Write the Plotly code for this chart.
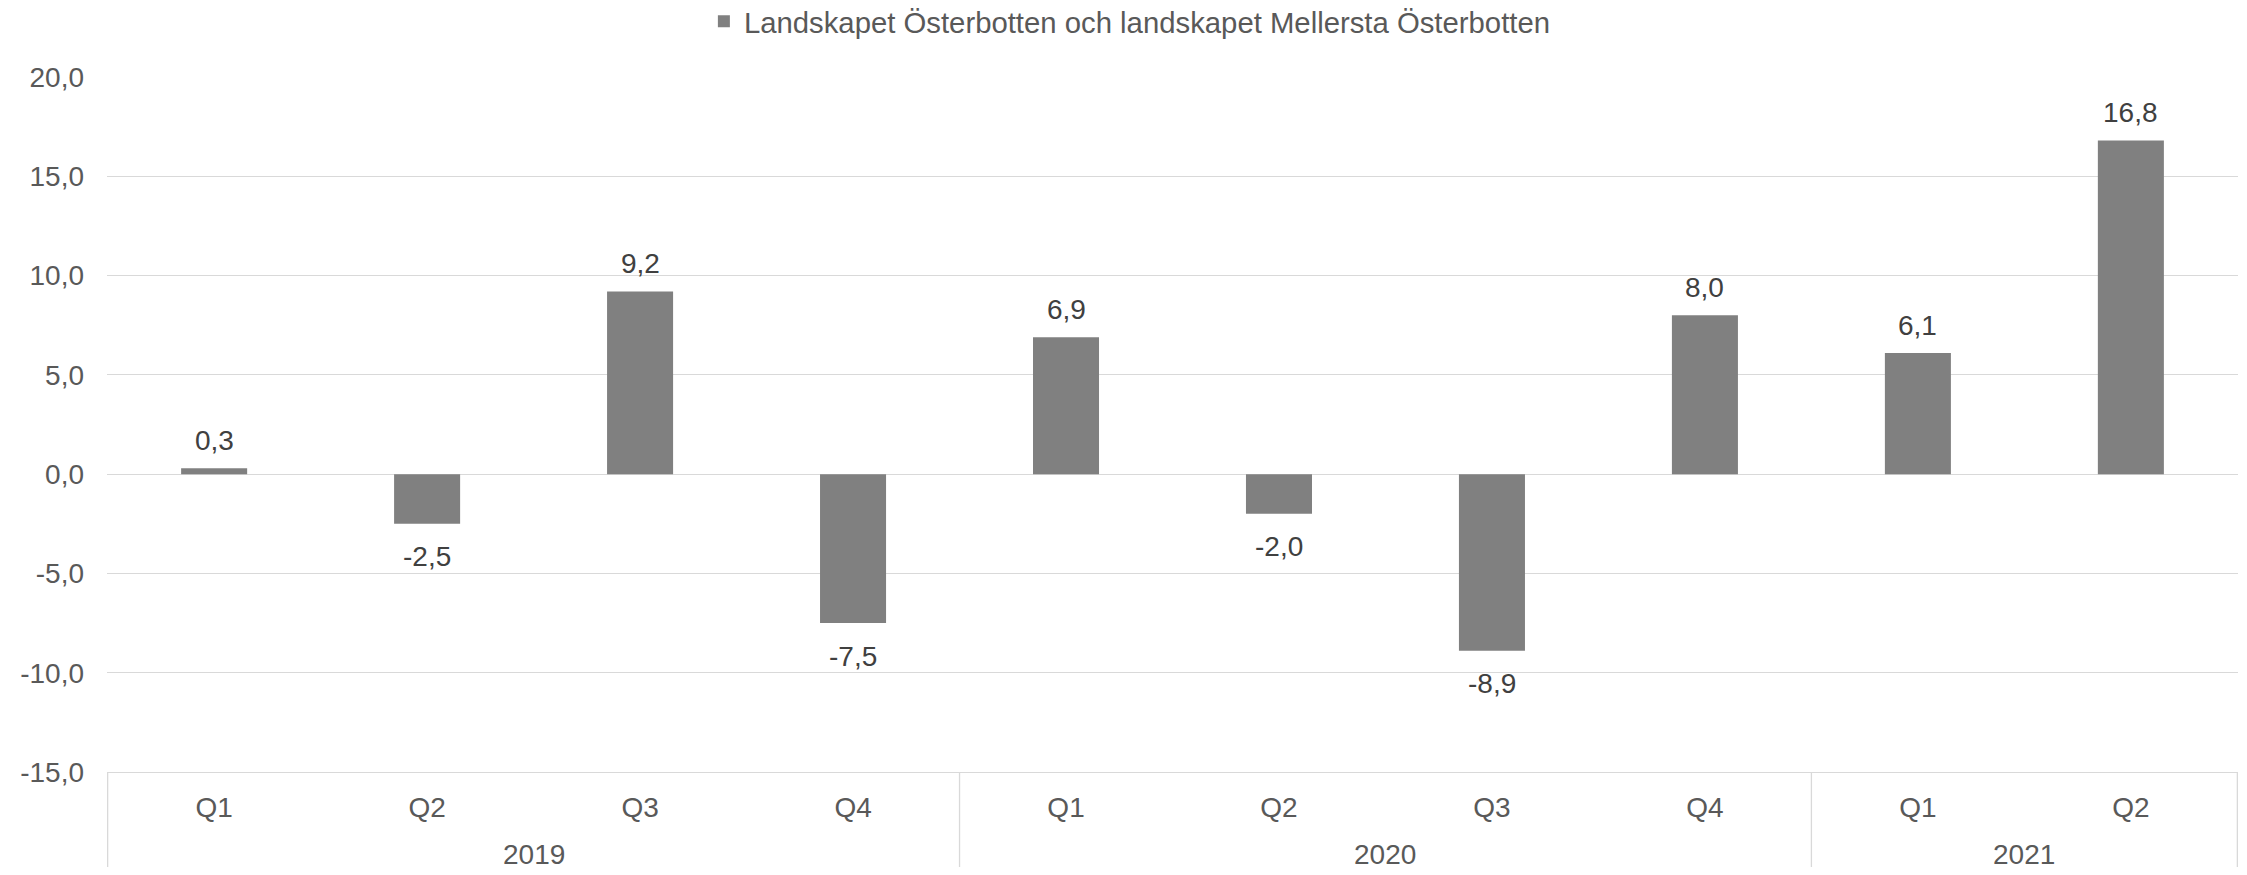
import plotly.graph_objects as go

years = ["2019", "2019", "2019", "2019", "2020", "2020", "2020", "2020", "2021", "2021"]
quarters = ["Q1", "Q2", "Q3", "Q4", "Q1", "Q2", "Q3", "Q4", "Q1", "Q2"]
values = [0.3, -2.5, 9.2, -7.5, 6.9, -2.0, -8.9, 8.0, 6.1, 16.8]
year_groups = ["2019", "2020", "2021"]
series_name = "Landskapet Österbotten och landskapet Mellersta Österbotten"
y_ticks = [-15, -10, -5, 0, 5, 10, 15, 20]

def fmt(v):
    return f"{v:.1f}".replace(".", ",")

FONT = "Liberation Sans, Arial, sans-serif"
GRID = "#d9d9d9"

cats = [f"{y} {q}" for y, q in zip(years, quarters)]

fig = go.Figure()
fig.add_trace(go.Bar(
    x=cats,
    y=values,
    name=series_name,
    marker=dict(color="#808080", line=dict(width=0)),
    showlegend=True,
))

# data labels
for c, v in zip(cats, values):
    fig.add_annotation(
        x=c, y=v, xref="x", yref="y",
        text=fmt(v), showarrow=False,
        yanchor="middle",
        yshift=28 if v >= 0 else -33,
        font=dict(family=FONT, size=28, color="#404040"),
    )

# year group labels and dividers (positions derived from category indices)
idx = 0
bounds = [-0.5]
for yg in year_groups:
    n = years.count(yg)
    fig.add_annotation(
        x=idx + (n - 1) / 2, y=-0.1194, xref="x", yref="paper",
        text=yg, showarrow=False, yanchor="middle",
        font=dict(family=FONT, size=28, color="#595959"),
    )
    idx += n
    bounds.append(idx - 0.5)

for b in bounds:
    fig.add_shape(
        type="line", xref="x", yref="paper",
        x0=b, x1=b, y0=0, y1=-0.2,
        line=dict(color=GRID, width=1.3),
    )

fig.update_layout(
    width=2231, height=859,
    margin=dict(l=99, r=1, t=69, b=95),
    paper_bgcolor="white", plot_bgcolor="white",
    bargap=0.69,
    font=dict(family=FONT, size=28, color="#595959"),
    legend=dict(
        orientation="h", x=0.480, xanchor="center",
        yref="container", y=0.984, yanchor="middle",
        font=dict(family=FONT, size=29.3, color="#595959"),
        bgcolor="rgba(0,0,0,0)",
    ),
    showlegend=True,
)

fig.update_yaxes(
    range=[-15, 20],
    tickvals=y_ticks,
    ticktext=[fmt(t) for t in y_ticks],
    showgrid=True, gridcolor=GRID, gridwidth=1.3,
    zeroline=True, zerolinecolor=GRID, zerolinewidth=1.3,
    showline=False, automargin=False,
    ticks="", ticklabelstandoff=22,
    tickfont=dict(family=FONT, size=28, color="#595959"),
)
fig.update_xaxes(
    type="category",
    tickvals=cats, ticktext=quarters,
    showline=True, linecolor=GRID, linewidth=1.3,
    ticks="", showgrid=False, automargin=False,
    ticklabelstandoff=10,
    tickfont=dict(family=FONT, size=28, color="#595959"),
)

fig.write_html("out.html")
